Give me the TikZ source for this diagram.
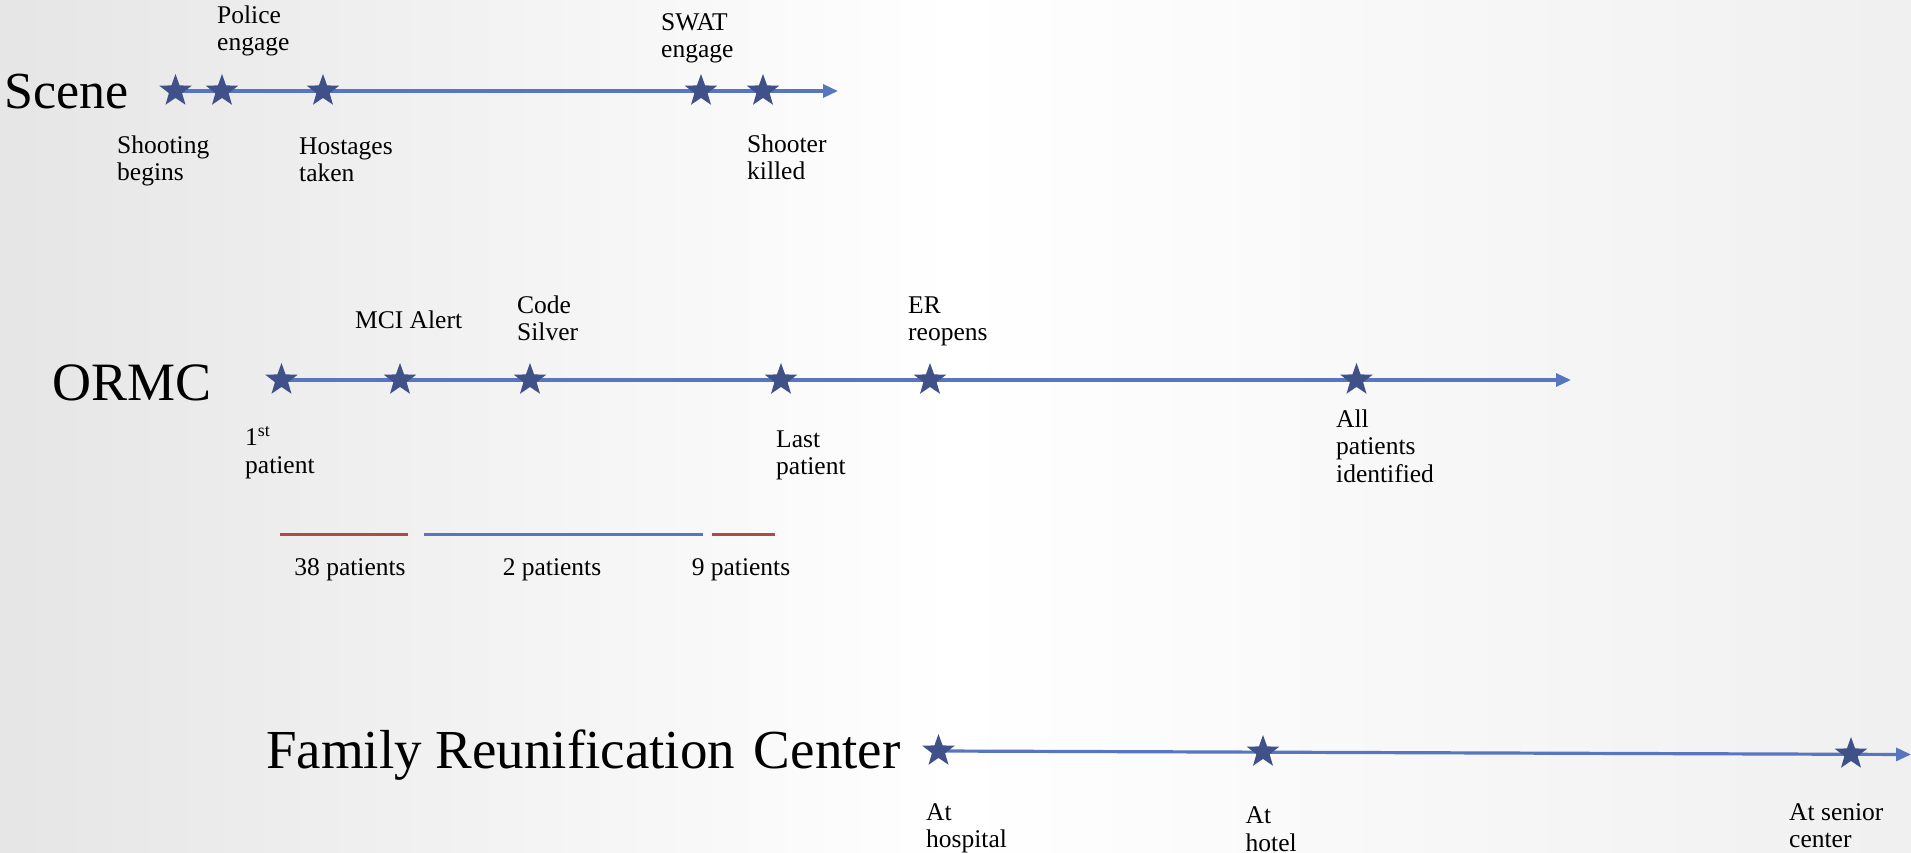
\documentclass[tikz,border=0pt]{standalone}
\usepackage{fontspec}
\setmainfont{Liberation Serif}
\usetikzlibrary{shapes.geometric,arrows.meta,backgrounds}
\definecolor{linecol}{RGB}{88,118,192}
\definecolor{starcol}{RGB}{64,81,138}
\definecolor{redcol}{RGB}{176,74,70}
\tikzset{
  ev/.style={star, star points=5, star point ratio=2.45, fill=starcol, draw=none,
             minimum size=34pt, inner sep=0pt},
  axis/.style={draw=linecol, line width=3.2pt, -{Triangle[length=15pt,width=13pt]}},
  lbl/.style={anchor=base west, inner sep=0pt, align=left,
              font=\fontsize{25.5}{27.5}\selectfont},
  cnt/.style={anchor=base, inner sep=0pt, font=\fontsize{25.5}{27.5}\selectfont},
  big/.style={anchor=base west, inner sep=0pt},
  bar/.style={line width=3pt}
}
\begin{document}
\begin{tikzpicture}[x=1pt,y=-1pt]
\useasboundingbox (0,0) rectangle (1911,853);
% ---------- Scene ----------
\node[big, font=\fontsize{52}{60}\selectfont] (scene) at (4,109) {Scene};
\node[ev] (s1) at (175.5,91) {};
\node[ev] (s2) at (222,91) {};
\node[ev] (s3) at (323,91) {};
\node[ev] (s4) at (701,91) {};
\node[ev] (s5) at (763,91) {};
\coordinate (sEnd) at (838,91);
% (base = baseline of the last line)
\node[lbl] (lPolice) at (217,51) {Police\\engage};
\node[lbl] (lSwat) at (661,58) {SWAT\\engage};
\node[lbl] (lShoot) at (117,181) {Shooting\\begins};
\node[lbl] (lHost) at (299,182) {Hostages\\taken};
\node[lbl] (lKill) at (747,180) {Shooter\\killed};
% ---------- ORMC ----------
\node[big, font=\fontsize{54}{60}\selectfont] (ormc) at (52,400) {ORMC};
\node[ev] (o1) at (281.5,380) {};
\node[ev] (o2) at (400,380) {};
\node[ev] (o3) at (530,380) {};
\node[ev] (o4) at (781,380) {};
\node[ev] (o5) at (930,380) {};
\node[ev] (o6) at (1356.5,380) {};
\coordinate (oEnd) at (1571,380);
\node[lbl] (lMci) at (355,328.5) {MCI Alert};
\node[lbl] (lCode) at (517,340.5) {Code\\Silver};
\node[lbl] (lEr) at (908,340.5) {ER\\reopens};
\node[lbl] (lFirst) at (245,473) {1\textsuperscript{st}\\patient};
\node[lbl] (lLast) at (776,474.5) {Last\\patient};
\node[lbl] (lAll) at (1336,482) {All\\patients\\identified};
% bars
\coordinate (b1a) at (280,534); \coordinate (b1b) at (408,534);
\coordinate (b2a) at (424,534); \coordinate (b2b) at (703,534);
\coordinate (b3a) at (712,534); \coordinate (b3b) at (775,534);
\draw[bar, redcol] (b1a) -- (b1b);
\draw[bar, linecol] (b2a) -- (b2b);
\draw[bar, redcol] (b3a) -- (b3b);
\node[cnt] (c38) at (350,575) {38 patients};
\node[cnt] (c2) at (552,575) {2 patients};
\node[cnt] (c9) at (741,575) {9 patients};
% ---------- Family Reunification Center ----------
\node[big, font=\fontsize{55}{60}\selectfont] (frc) at (266,768) {Family Reunification \hspace{5pt}Center};
\node[ev] (f1) at (938.5,751) {};
\node[ev] (f2) at (1263,752) {};
\node[ev] (f3) at (1851,754) {};
\coordinate (fEnd) at (1911,754.5);
\node[lbl] (lHosp) at (926,847.5) {At\\hospital};
\node[lbl] (lHotel) at (1245.5,851) {At\\hotel};
\node[lbl] (lSenior) at (1789,847.5) {At senior\\center};
% ---------- background and axes ----------
\begin{scope}[on background layer]
  \shade[left color=black!10, right color=black!6, middle color=white] (0,0) rectangle (1911,853);
  \draw[axis] (s1.center) -- (sEnd);
  \draw[axis] (o1.center) -- (oEnd);
  \draw[axis] (f1.center) -- (fEnd);
\end{scope}
\end{tikzpicture}
\end{document}
